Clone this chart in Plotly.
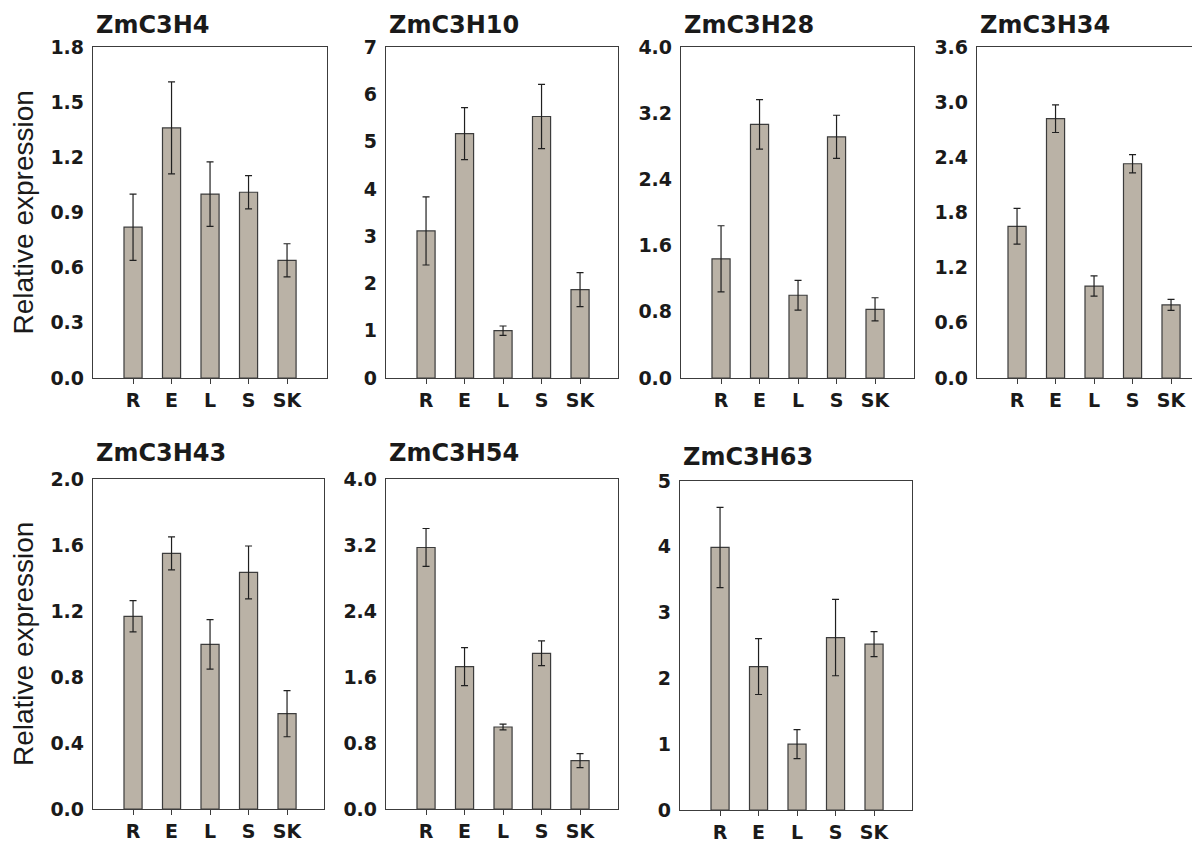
import plotly.graph_objects as go

tissues = ["R", "E", "L", "S", "SK"]
genes = ["ZmC3H4", "ZmC3H10", "ZmC3H28", "ZmC3H34", "ZmC3H43", "ZmC3H54", "ZmC3H63"]

zmc3h4 = [0.82, 1.36, 1.00, 1.01, 0.64]
zmc3h4_err = [0.18, 0.25, 0.175, 0.09, 0.09]
zmc3h10 = [3.11, 5.17, 1.00, 5.53, 1.87]
zmc3h10_err = [0.72, 0.55, 0.10, 0.68, 0.36]
zmc3h28 = [1.44, 3.065, 1.00, 2.915, 0.83]
zmc3h28_err = [0.40, 0.30, 0.18, 0.26, 0.14]
zmc3h34 = [1.65, 2.82, 1.00, 2.33, 0.795]
zmc3h34_err = [0.195, 0.15, 0.11, 0.10, 0.06]
zmc3h43 = [1.168, 1.549, 0.998, 1.434, 0.578]
zmc3h43_err = [0.095, 0.10, 0.15, 0.16, 0.14]
zmc3h54 = [3.17, 1.725, 0.994, 1.887, 0.586]
zmc3h54_err = [0.23, 0.23, 0.036, 0.15, 0.085]
zmc3h63 = [3.99, 2.18, 1.00, 2.62, 2.52]
zmc3h63_err = [0.61, 0.425, 0.22, 0.58, 0.19]

values = [zmc3h4, zmc3h10, zmc3h28, zmc3h34, zmc3h43, zmc3h54, zmc3h63]
errors = [zmc3h4_err, zmc3h10_err, zmc3h28_err, zmc3h34_err, zmc3h43_err, zmc3h54_err, zmc3h63_err]
y_max = [1.8, 7, 4.0, 3.6, 2.0, 4.0, 5]
y_step = [0.3, 1, 0.8, 0.6, 0.4, 0.8, 1]
y_int = [False, True, False, False, False, False, True]

W, H = 1200, 843
OFF = 8  # page body margin
# panel pixel boxes on screen: left, right, top, bottom
boxes = [
    (93, 327, 47, 378),
    (386, 618, 47, 378),
    (681, 914, 47, 378),
    (977, 1208, 47, 378),
    (93, 324, 479, 809),
    (386, 618, 479, 809),
    (680, 912, 481, 810),
]
title_y = [25, 25, 25, 25, 453, 453, 457]

BAR = "#bab2a6"
LINE = "#3c3c3c"
TXT = "#1a1a1a"
TICKFONT = "DejaVu Sans, Verdana, sans-serif"
LABFONT = "Liberation Sans, Arial, sans-serif"

fig = go.Figure()
layout = dict(
    width=W, height=H, margin=dict(l=0, r=0, t=0, b=0, autoexpand=False),
    paper_bgcolor="white", plot_bgcolor="white", showlegend=False,
)
annotations = []
for i, g in enumerate(genes):
    n = i + 1
    xa = "x" if n == 1 else f"x{n}"
    ya = "y" if n == 1 else f"y{n}"
    fig.add_trace(go.Bar(
        x=tissues, y=values[i], xaxis=xa, yaxis=ya, width=0.47,
        marker=dict(color=BAR, line=dict(color=LINE, width=1.2)),
        error_y=dict(type="data", array=errors[i], visible=True,
                     color="#202020", thickness=1.2, width=3.5),
        hoverinfo="skip",
    ))
    l, r, t, b = [v - OFF for v in boxes[i]]
    pxunit = 38.5
    x0 = -1.04
    x1 = x0 + (r - l) / pxunit
    ticks = []
    k = 0
    while k * y_step[i] <= y_max[i] + 1e-9:
        ticks.append(round(k * y_step[i], 4))
        k += 1
    if y_int[i]:
        ttext = [f"<b>{int(round(t_))}</b>" for t_ in ticks]
    else:
        ttext = [f"<b>{t_:.1f}</b>" for t_ in ticks]
    layout["xaxis" if n == 1 else f"xaxis{n}"] = dict(
        domain=[l / W, min(r / W, 1.0)], range=[x0, x1], anchor=ya,
        showline=True, linecolor=LINE, linewidth=1.3, mirror=True,
        ticks="outside", ticklen=5, tickcolor=LINE, tickwidth=1.2,
        tickvals=tissues, ticktext=[f"<b>{s}</b>" for s in tissues],
        tickfont=dict(family=TICKFONT, size=19, color=TXT),
        showgrid=False, zeroline=False, fixedrange=True, automargin=False,
    )
    layout["yaxis" if n == 1 else f"yaxis{n}"] = dict(
        domain=[1 - b / H, 1 - t / H], range=[0, y_max[i]], anchor=xa,
        showline=True, linecolor=LINE, linewidth=1.3, mirror=True,
        ticks="", ticklabelstandoff=4,
        tickvals=ticks, ticktext=ttext,
        tickfont=dict(family=TICKFONT, size=19, color=TXT),
        showgrid=False, zeroline=False, fixedrange=True, automargin=False,
    )
    annotations.append(dict(
        text=f"<b>{g}</b>", xref="paper", yref="paper",
        x=(l + 1) / W, y=1 - (title_y[i] - OFF) / H, xanchor="left", yanchor="middle",
        showarrow=False, font=dict(family=TICKFONT, size=24, color=TXT),
    ))

for yc in [(47 + 378) / 2, (479 + 809) / 2]:
    annotations.append(dict(
        text="Relative expression", xref="paper", yref="paper",
        x=(23 - OFF) / W, y=1 - (yc - OFF) / H, xanchor="center", yanchor="middle",
        textangle=-90, showarrow=False,
        font=dict(family=LABFONT, size=28, color=TXT),
    ))

layout["annotations"] = annotations
fig.update_layout(**layout)
fig.write_html("out.html")
